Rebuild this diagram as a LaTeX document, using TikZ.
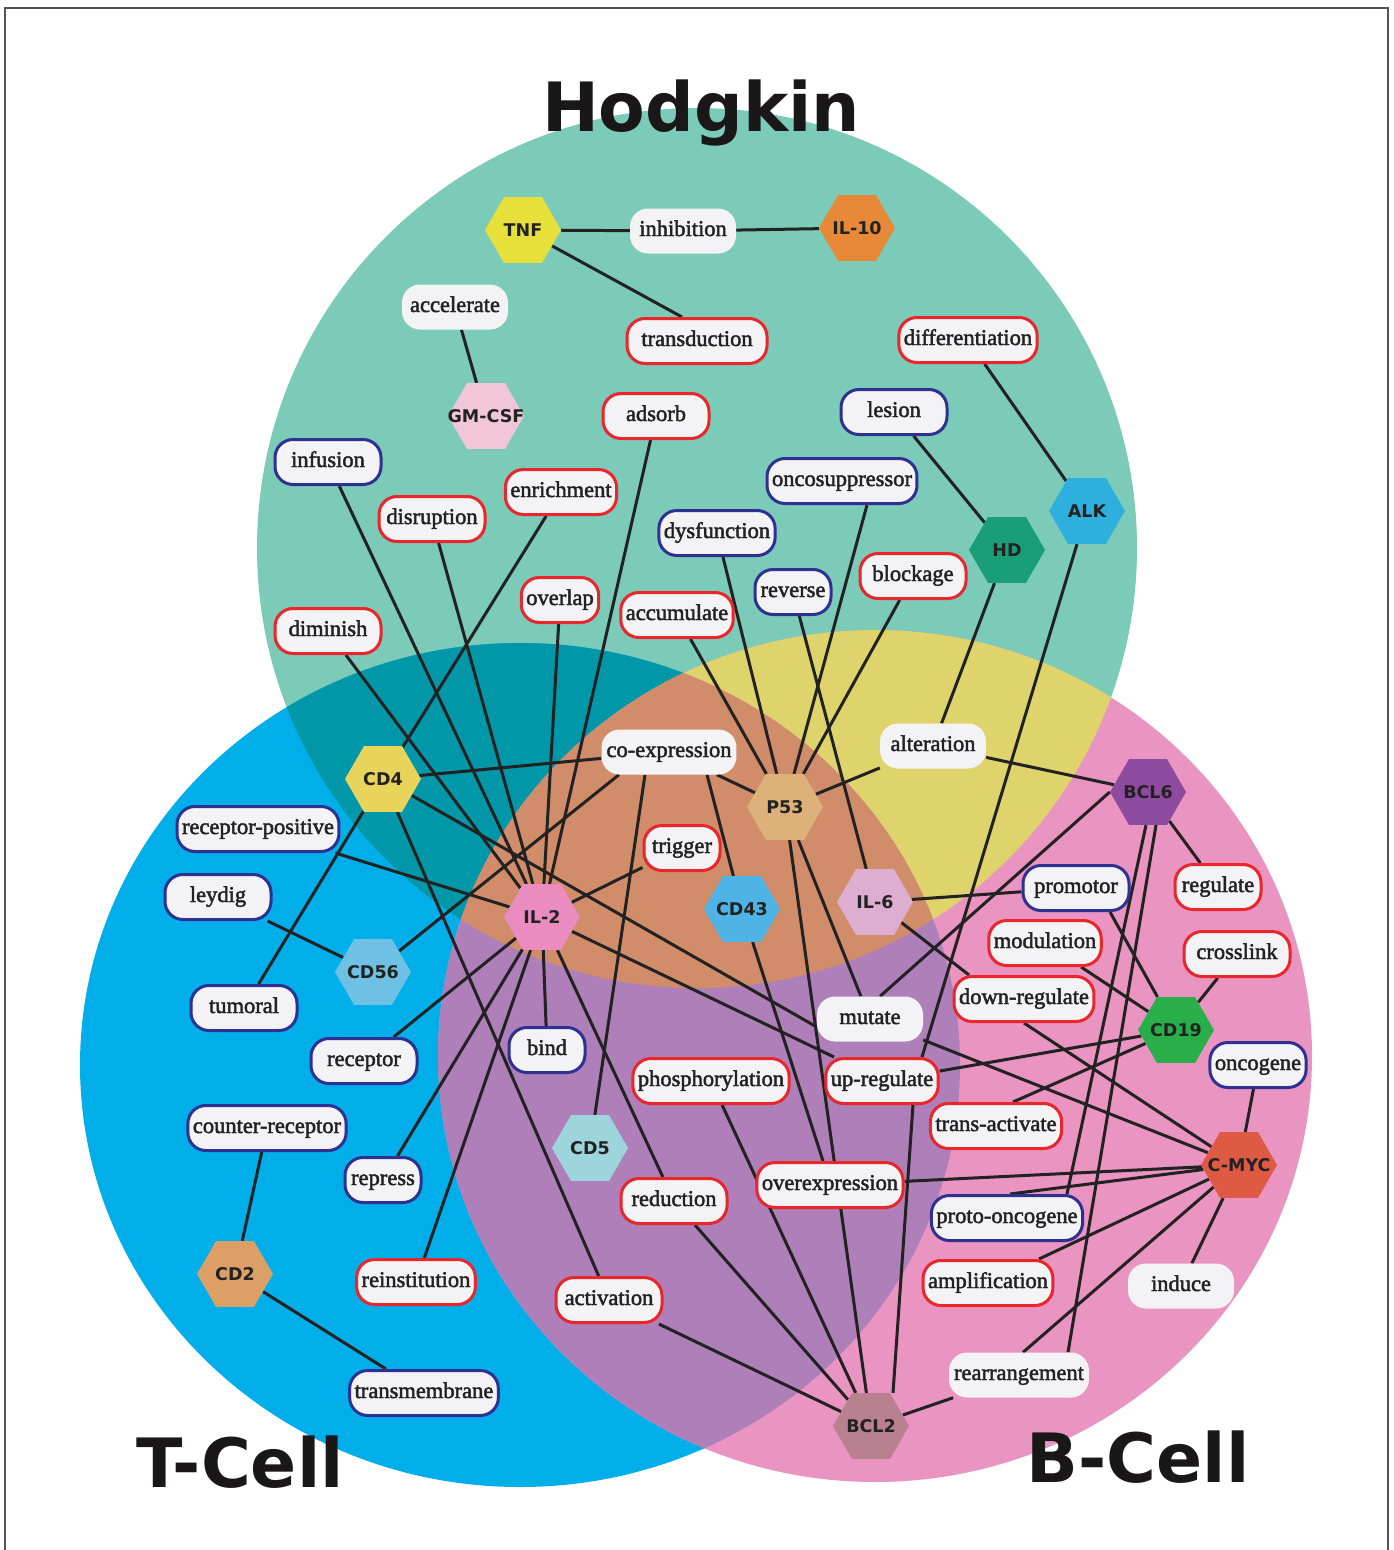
\documentclass[tikz,border=0pt]{standalone}
\usepackage{fontspec}
\setmainfont{Liberation Serif}
\newfontfamily\hexfont{DejaVu Sans}
\newfontfamily\wordfont{Liberation Serif}[BoldFont={Liberation Serif}, BoldFeatures={FakeBold=2}]
\usepackage{xcolor}
\usetikzlibrary{shapes.geometric,backgrounds}
\definecolor{hodg}{HTML}{7CCBB9}
\definecolor{tcell}{HTML}{00AEEA}
\definecolor{bcell}{HTML}{E994C1}
\definecolor{hodgt}{HTML}{0098A8}
\definecolor{hodgb}{HTML}{DFD46C}
\definecolor{tb}{HTML}{AE7FB9}
\definecolor{hodgtb}{HTML}{D18C6A}
\definecolor{wordbg}{HTML}{F3F3F5}
\definecolor{wred}{HTML}{E8262B}
\definecolor{wblue}{HTML}{2E3192}
\definecolor{ink}{HTML}{222222}
\definecolor{titleink}{HTML}{1A1718}
\definecolor{frame}{HTML}{555555}
\definecolor{tnfc}{HTML}{E8E03A}
\definecolor{ilten}{HTML}{E8893A}
\definecolor{gmcsfc}{HTML}{F0C6D8}
\definecolor{alkc}{HTML}{2EB0DE}
\definecolor{hdc}{HTML}{1A9E78}
\definecolor{cdfour}{HTML}{E8D45A}
\definecolor{pfiftythree}{HTML}{DDB27A}
\definecolor{iltwo}{HTML}{EA8CC0}
\definecolor{cdfortythree}{HTML}{4EB4E6}
\definecolor{ilsix}{HTML}{DDAED0}
\definecolor{bclsix}{HTML}{8E4A9E}
\definecolor{cdfiftysix}{HTML}{6EC0E4}
\definecolor{cdnineteen}{HTML}{2AAE4A}
\definecolor{cdfive}{HTML}{9ED4DC}
\definecolor{cmycc}{HTML}{DE5A44}
\definecolor{cdtwo}{HTML}{DCA066}
\definecolor{bcltwo}{HTML}{B98090}
\tikzset{
  hex/.style={regular polygon, regular polygon sides=6, minimum size=76pt, inner sep=0pt},
  hexlab/.style={font=\hexfont\bfseries\fontsize{17.5}{20}\selectfont, text=ink, inner sep=0pt},
  word/.style={rounded corners=18pt, fill=wordbg, minimum width=106pt, minimum height=45pt,
    inner xsep=5pt, inner ysep=0pt, text height=15pt, text depth=5pt,
    font=\wordfont\bfseries\fontsize{22.5}{26}\selectfont, text=ink},
  redword/.style={word, draw=wred, line width=3pt},
  blueword/.style={word, draw=wblue, line width=3pt},
  link/.style={draw=ink, line width=3pt},
  title/.style={font=\hexfont\bfseries\fontsize{68}{70}\selectfont, text=titleink, anchor=base, inner sep=0pt},
}
\begin{document}
\begin{tikzpicture}[x=1pt, y=-1pt]
\useasboundingbox (0,0) rectangle (1394,1550);
\draw[frame, line width=2pt] (5,1550) -- (5,8) -- (1388,8) -- (1388,1550);

% the three sets
\begin{pgfonlayer}{background}
\fill[hodg] (697,548) circle[radius=440];
\fill[tcell] (520,1065) ellipse[x radius=440, y radius=422];
\fill[bcell] (875,1056) ellipse[x radius=437, y radius=426];
\begin{scope}
  \clip (697,548) circle[radius=440];
  \fill[hodgt] (520,1065) ellipse[x radius=440, y radius=422];
  \fill[hodgb] (875,1056) ellipse[x radius=437, y radius=426];
\end{scope}
\begin{scope}
  \clip (520,1065) ellipse[x radius=440, y radius=422];
  \fill[tb] (875,1056) ellipse[x radius=437, y radius=426];
  \clip (697,548) circle[radius=440];
  \fill[hodgtb] (875,1056) ellipse[x radius=437, y radius=426];
\end{scope}
\end{pgfonlayer}

\node[title] (hodgkin) at (701,131) {Hodgkin};
\node[title] (tcelltitle) at (240,1487) {T-Cell};
\node[title] (bcelltitle) at (1138,1482) {B-Cell};

% hexagons
\node[hex, fill=tnfc, label={[hexlab]center:TNF}] (tnf) at (523,230) {};
\node[hex, fill=ilten, label={[hexlab]center:IL-10}] (il10) at (857,228) {};
\node[hex, fill=gmcsfc, label={[hexlab]center:GM-CSF}] (gmcsf) at (486,416) {};
\node[hex, fill=alkc, label={[hexlab]center:ALK}] (alk) at (1087,511) {};
\node[hex, fill=hdc, label={[hexlab]center:HD}] (hd) at (1007,550) {};
\node[hex, fill=cdfour, label={[hexlab]center:CD4}] (cd4) at (383,779) {};
\node[hex, fill=pfiftythree, label={[hexlab]center:P53}] (p53) at (785,807) {};
\node[hex, fill=iltwo, label={[hexlab]center:IL-2}] (il2) at (542,917) {};
\node[hex, fill=cdfortythree, label={[hexlab]center:CD43}] (cd43) at (742,909) {};
\node[hex, fill=ilsix, label={[hexlab]center:IL-6}] (il6) at (875,902) {};
\node[hex, fill=bclsix, label={[hexlab]center:BCL6}] (bcl6) at (1148,792) {};
\node[hex, fill=cdfiftysix, label={[hexlab]center:CD56}] (cd56) at (373,972) {};
\node[hex, fill=cdnineteen, label={[hexlab]center:CD19}] (cd19) at (1176,1030) {};
\node[hex, fill=cdfive, label={[hexlab]center:CD5}] (cd5) at (590,1148) {};
\node[hex, fill=cmycc, label={[hexlab]center:C-MYC}] (cmyc) at (1239,1165) {};
\node[hex, fill=cdtwo, label={[hexlab]center:CD2}] (cd2) at (235,1274) {};
\node[hex, fill=bcltwo, label={[hexlab]center:BCL2}] (bcl2) at (871,1426) {};

% words
\node[word] (inhib) at (683,231) {inhibition};
\node[word] (accel) at (455,307) {accelerate};
\node[redword, minimum width=140pt] (transd) at (697,341) {transduction};
\node[redword] (diff) at (968,340) {differentiation};
\node[redword] (adsorb) at (656,416) {adsorb};
\node[blueword] (lesion) at (894,412) {lesion};
\node[blueword] (infusion) at (328,462) {infusion};
\node[blueword] (oncosup) at (842,481) {oncosuppressor};
\node[redword] (enrich) at (561,492) {enrichment};
\node[redword] (disrupt) at (432,519) {disruption};
\node[blueword] (dysfunc) at (717,533) {dysfunction};
\node[redword] (blockage) at (913,576) {blockage};
\node[blueword, minimum width=76pt] (reverse) at (793,592) {reverse};
\node[redword, minimum width=76pt] (overlap) at (560,600) {overlap};
\node[redword] (accum) at (677,615) {accumulate};
\node[redword] (diminish) at (328,631) {diminish};
\node[word] (alter) at (933,746) {alteration};
\node[word] (coexpr) at (669,752) {co-expression};
\node[blueword] (recpos) at (258,829) {receptor-positive};
\node[redword, minimum width=76pt] (trigger) at (682,848) {trigger};
\node[blueword] (leydig) at (218,897) {leydig};
\node[blueword] (promotor) at (1076,888) {promotor};
\node[redword, minimum width=86pt] (regulate) at (1218,887) {regulate};
\node[redword] (modul) at (1045,943) {modulation};
\node[redword] (crossl) at (1237,954) {crosslink};
\node[redword] (downreg) at (1024,999) {down-regulate};
\node[blueword] (tumoral) at (244,1008) {tumoral};
\node[word] (mutate) at (870,1019) {mutate};
\node[blueword, minimum width=76pt] (bind) at (547,1050) {bind};
\node[blueword] (receptor) at (364,1061) {receptor};
\node[blueword, minimum width=90pt] (oncogene) at (1258,1065) {oncogene};
\node[redword] (phosph) at (711,1081) {phosphorylation};
\node[redword] (upreg) at (882,1081) {up-regulate};
\node[blueword] (counter) at (267,1128) {counter-receptor};
\node[redword] (transact) at (996,1126) {trans-activate};
\node[blueword, minimum width=76pt] (repress) at (383,1180) {repress};
\node[redword] (reduct) at (674,1201) {reduction};
\node[redword] (overexpr) at (830,1185) {overexpression};
\node[blueword] (protoonc) at (1007,1218) {proto-oncogene};
\node[redword] (reinst) at (416,1282) {reinstitution};
\node[redword] (amplif) at (988,1283) {amplification};
\node[word] (induce) at (1181,1286) {induce};
\node[redword] (activ) at (609,1300) {activation};
\node[word] (rearr) at (1019,1375) {rearrangement};
\node[blueword] (transm) at (424,1393) {transmembrane};

% links
\begin{pgfonlayer}{background}
\draw[link] (tnf) -- (inhib) (inhib) -- (il10) (tnf) -- ([xshift=-15pt]transd.north) (accel) -- (gmcsf);
\draw[link] (diff) -- (alk) (alk) -- ([xshift=40pt]upreg.north) (lesion) -- (hd) (hd) -- (alter);
\draw[link] (infusion) -- (il2) (disrupt) -- (il2) (adsorb) -- (il2) (diminish) -- (il2)
  (overlap) -- (il2) (recpos) -- (il2) (trigger) -- (il2);
\draw[link] (il2) -- (receptor) (il2) -- (repress) (il2) -- (reinst) (il2) -- (bind)
  (il2) -- (reduct) (il2) -- ([xshift=-48pt]upreg.north);
\draw[link] (enrich) -- (cd4) (cd4) -- (coexpr) (cd4) -- ([yshift=-8pt]mutate.west) (cd4) -- (activ);
\draw[link] (cd4) -- (tumoral);
\draw[link] (dysfunc) -- (p53) ([xshift=25pt]oncosup.south) -- (p53) (blockage) -- (p53) (accum) -- (p53)
  (alter) -- (p53) (coexpr) -- (p53) (p53) -- (mutate) (p53) -- (bcl2);
\draw[link] (leydig) -- (cd56) (cd56) -- ([xshift=-50pt]coexpr.south) ([xshift=-24pt]coexpr.south) -- (cd5)
  ([xshift=38pt]coexpr.south) -- (cd43) (cd43) -- ([xshift=-7pt]overexpr.north);
\draw[link] (reverse) -- (il6) (il6) -- (promotor) (il6) -- ([xshift=-55pt]downreg.north);
\draw[link] (alter) -- (bcl6) (bcl6.west) -- ([xshift=10pt]mutate.north) (bcl6) -- (regulate)
  ([xshift=-2pt]bcl6.south) -- ([xshift=60pt]protoonc.north) ([xshift=8pt]bcl6.south) -- ([xshift=49pt]rearr.north);
\draw[link] ([xshift=34pt]promotor.south) -- (cd19) (modul) -- (cd19) (crossl) -- (cd19) (cd19) -- (upreg)
  (cd19) -- ([xshift=17pt]transact.north);
\draw[link] (downreg.south) -- (cmyc) (mutate) -- (cmyc) (oncogene) -- (cmyc) (overexpr) -- (cmyc)
  ([xshift=3pt]protoonc.north) -- (cmyc) (amplif) -- (cmyc) ([xshift=4pt]rearr.north) -- (cmyc) (induce) -- (cmyc);
\draw[link] (rearr) -- (bcl2) (activ) -- (bcl2) (reduct) -- (bcl2) (phosph) -- (bcl2)
  ([xshift=31pt]upreg.south) -- ([xshift=22pt]bcl2.north);
\draw[link] (counter) -- (cd2) (cd2) -- (transm);
\end{pgfonlayer}
\end{tikzpicture}
\end{document}
